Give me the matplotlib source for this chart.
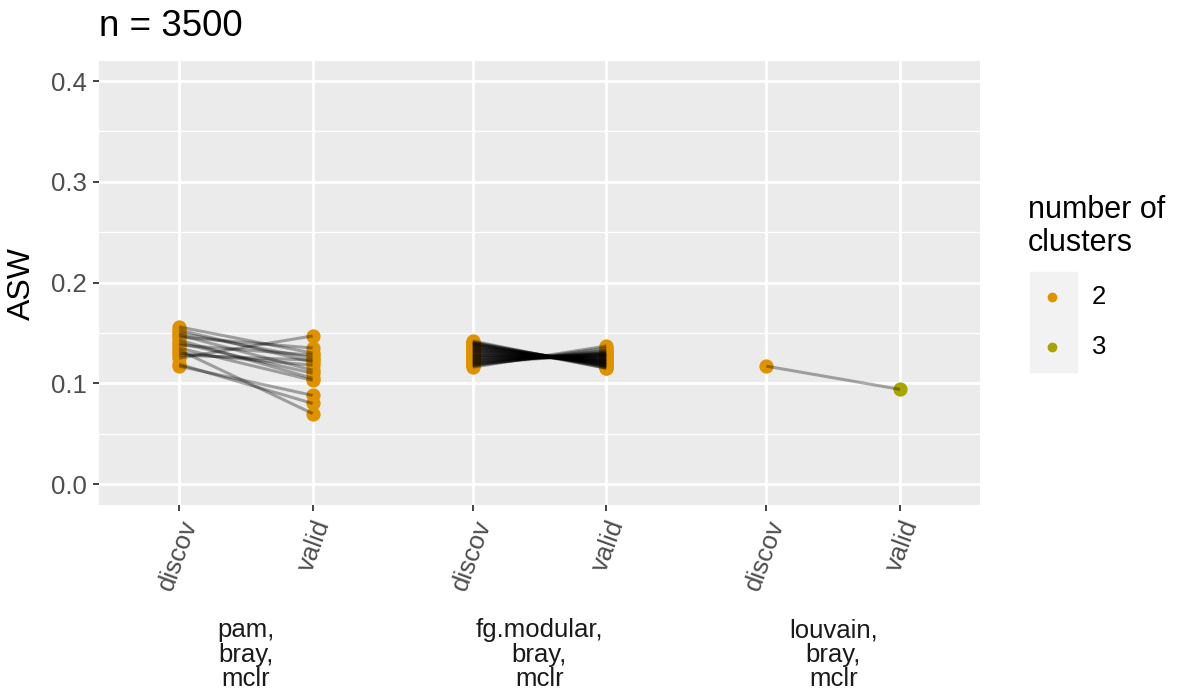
import matplotlib
matplotlib.use("Agg")
import matplotlib.pyplot as plt
import matplotlib.transforms as mtransforms
from matplotlib.patches import Rectangle

plt.rcParams['font.family'] = ['Liberation Sans', 'DejaVu Sans']

# ASW per clustering method, discovery vs validation split
methods = ["pam,\nbray,\nmclr", "fg.modular,\nbray,\nmclr", "louvain,\nbray,\nmclr"]
splits = ["discov", "valid"]

pam_discov = [0.117, 0.119, 0.133, 0.125, 0.156, 0.153, 0.150, 0.148,
              0.146, 0.143, 0.140, 0.138, 0.135, 0.130, 0.128]
pam_valid = [0.088, 0.080, 0.070, 0.147, 0.130, 0.121, 0.125, 0.113,
             0.135, 0.105, 0.110, 0.128, 0.103, 0.118, 0.123]

fg_discov = [0.142, 0.141, 0.140, 0.140, 0.139, 0.138, 0.138, 0.137, 0.136,
             0.135, 0.135, 0.134, 0.133, 0.132, 0.132, 0.131, 0.130, 0.129,
             0.128, 0.128, 0.127, 0.126, 0.125, 0.125, 0.124, 0.123, 0.122,
             0.122, 0.121, 0.120, 0.119, 0.119, 0.118, 0.117, 0.116]
fg_valid = [0.115, 0.116, 0.117, 0.115, 0.118, 0.117, 0.119, 0.118, 0.120,
            0.119, 0.121, 0.120, 0.122, 0.121, 0.123, 0.122, 0.124, 0.123,
            0.125, 0.124, 0.126, 0.127, 0.126, 0.128, 0.127, 0.129, 0.128,
            0.130, 0.129, 0.131, 0.132, 0.130, 0.133, 0.135, 0.137]

louv_discov = [0.117]
louv_valid = [0.094]

# number of clusters found in each split
pam_k = [2, 2]
fg_k = [2, 2]
louv_k = [2, 3]

k_colors = {2: "#DE9200", 3: "#A8A500"}

groups = [(pam_discov, pam_valid, pam_k),
          (fg_discov, fg_valid, fg_k),
          (louv_discov, louv_valid, louv_k)]

fig = plt.figure(figsize=(11.79, 6.98), dpi=100)
ax = fig.add_axes([99 / 1179, 1 - 505 / 698, 881 / 1179, 444 / 698])
ax.set_facecolor("#EBEBEB")

width = 2.2  # each facet: 2 discrete slots plus padding on both sides
xticks = []
xlabels = []
for i, (d, v, k) in enumerate(groups):
    x0 = 1 + i * width
    x1 = 2 + i * width
    xticks += [x0, x1]
    xlabels += splits
    ax.scatter([x0] * len(d), d, s=105, color=k_colors[k[0]], zorder=3, linewidths=0)
    ax.scatter([x1] * len(v), v, s=105, color=k_colors[k[1]], zorder=3, linewidths=0)
    for a, b in zip(d, v):
        ax.plot([x0, x1], [a, b], color="black", alpha=0.33, lw=2.2,
                zorder=4, solid_capstyle="butt")

ax.set_xlim(0.4, 0.4 + 3 * width)
ax.set_ylim(-0.0208, 0.4199)

ax.set_yticks([0.0, 0.1, 0.2, 0.3, 0.4])
ax.set_yticklabels(["0.0", "0.1", "0.2", "0.3", "0.4"])
ax.set_yticks([0.05, 0.15, 0.25, 0.35], minor=True)
ax.set_xticks(xticks)
ax.set_xticklabels(xlabels)
for lab in ax.get_xticklabels():
    lab.set_rotation(70)
    lab.set_ha("right")
    lab.set_va("top")
    lab.set_rotation_mode("anchor")

ax.grid(True, which="major", color="white", lw=2.0)
ax.grid(True, which="minor", axis="y", color="white", lw=1.0)
ax.set_axisbelow(True)
for s in ax.spines.values():
    s.set_visible(False)
ax.tick_params(axis="both", which="major", length=4.5, width=1.3, color="#333333",
               labelsize=18.5, labelcolor="#4D4D4D", pad=4)
ax.tick_params(axis="y", which="minor", length=0)

ax.set_ylabel("ASW", fontsize=23, color="black", labelpad=10)
ax.set_title("n = 3500", loc="left", fontsize=26.5, pad=18, x=0.0)

# facet labels underneath the panel
trans = mtransforms.blended_transform_factory(ax.transData, ax.transAxes)
for i, m in enumerate(methods):
    ax.text(1.5 + i * width, -0.255, m, transform=trans, ha="center", va="top",
            fontsize=18.5, color="#1A1A1A", linespacing=1.03)

# legend
fig.text(1028 / 1179, 1 - 226.5 / 698, "number of\nclusters", fontsize=22,
         ha="left", va="center", linespacing=1.12)
fig.patches.append(Rectangle((1030 / 1179, 1 - 372 / 698), 47 / 1179, 100 / 698,
                             transform=fig.transFigure, color="#F2F2F2", zorder=0))
for yy, k in [(297, 2), (347, 3)]:
    fig.add_artist(plt.Line2D([1052 / 1179], [1 - yy / 698], marker="o", ms=6,
                              color=k_colors[k], transform=fig.transFigure))
    fig.text(1092 / 1179, 1 - yy / 698, str(k), fontsize=18.5, ha="left", va="center")

fig.savefig("out.png", dpi=100)
